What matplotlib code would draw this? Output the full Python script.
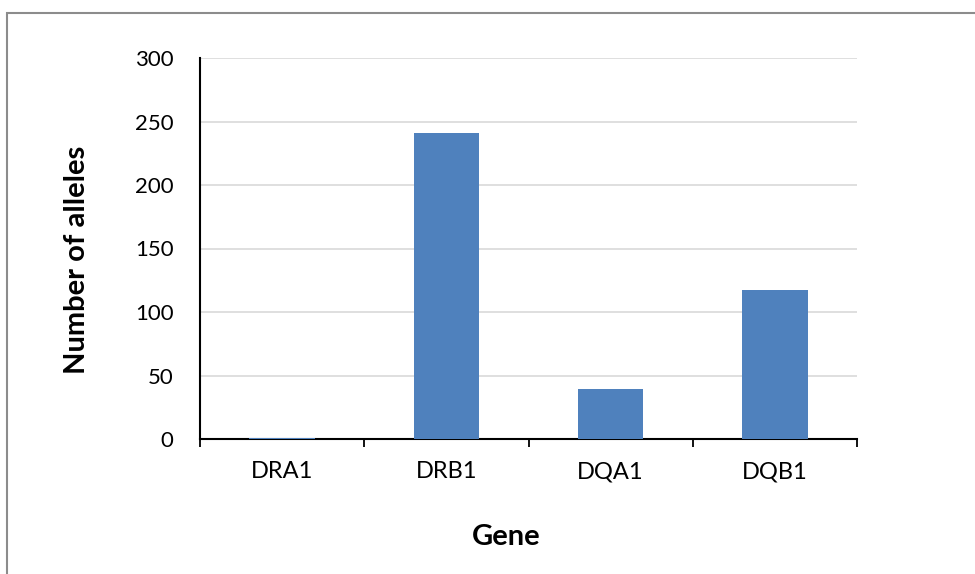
import matplotlib
matplotlib.use("Agg")
import matplotlib.pyplot as plt
from matplotlib.patches import Rectangle

genes = ["DRA1", "DRB1", "DQA1", "DQB1"]
alleles = [1, 241, 39, 117]
y_ticks = [0, 50, 100, 150, 200, 250, 300]

plt.rcParams["font.family"] = ["Lato", "DejaVu Sans"]

fig = plt.figure(figsize=(9.75, 5.74), dpi=100)
ax = fig.add_axes([200/975, 1-439/574, 657/975, 381/574])

x = list(range(len(genes)))
ax.bar(x, alleles, width=0.4, color="#4f81bd", zorder=3)

ax.set_xlim(-0.5, len(genes) - 0.5)
ax.set_ylim(0, 300)
ax.set_yticks(y_ticks)
ax.set_yticklabels([str(v) for v in y_ticks], fontsize=16)
ax.tick_params(axis="y", length=0, pad=19)
ax.yaxis.grid(True, color="#d9d9d9", linewidth=1.2, zorder=0)

# category labels centred, tick marks at category boundaries
ax.set_xticks(x)
ax.set_xticklabels(genes, fontsize=17)
ax.tick_params(axis="x", which="major", length=0, pad=16)
ax.set_xticks([i - 0.5 for i in range(len(genes) + 1)], minor=True)
ax.tick_params(axis="x", which="minor", length=6, width=1.3, color="black", direction="out")

for side in ("top", "right"):
    ax.spines[side].set_visible(False)
for side in ("left", "bottom"):
    ax.spines[side].set_linewidth(1.5)
    ax.spines[side].set_color("black")

ax.set_xlabel("Gene", fontsize=21, fontweight="bold")
ax.xaxis.set_label_coords(0.466, -0.222)
ax.set_ylabel("Number of alleles", fontsize=21, fontweight="bold")
ax.yaxis.set_label_coords(-0.167, 0.47)

fig.patches.append(Rectangle((7/975, -0.1), 1.2, 1 - 13/574 + 0.1,
                             transform=fig.transFigure, fill=False,
                             edgecolor="#8c8c8c", linewidth=1.5))

fig.savefig("out.png", dpi=100)
